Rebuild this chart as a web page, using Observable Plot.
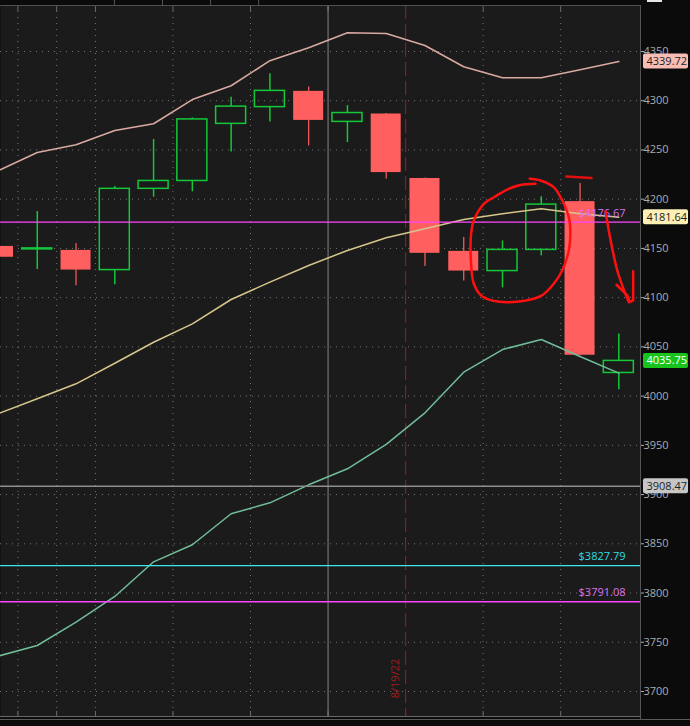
<!DOCTYPE html>
<html><head><meta charset="utf-8">
<script src="https://cdn.jsdelivr.net/npm/d3@7"></script>
<script src="https://cdn.jsdelivr.net/npm/@observablehq/plot@0.6"></script>
<style>html,body{margin:0;padding:0;background:#0b0b0b;overflow:hidden}</style>
</head><body><div id="chart"></div>
<script>
// ---- candle data (bar index, OHLC) ----
const barIndex = [0,1,2,3,4,5,6,7,8,9,10,11,12,13,14,15,16];
const opens  = [4152, 4149, 4148, 4128, 4210.5, 4218.5, 4276.5, 4293.5, 4309.5, 4278.5, 4286.5, 4221, 4147, 4127, 4148.5, 4197.5, 4023.5];
const highs  = [4158, 4187.5, 4155, 4213, 4260.5, 4282.5, 4303.5, 4327.5, 4314, 4295, 4287, 4221.5, 4161, 4157.5, 4202.5, 4216, 4063];
const lows   = [4135, 4128.5, 4112, 4113, 4202, 4207.5, 4248, 4278.5, 4254, 4257.5, 4220.5, 4131.5, 4117, 4110, 4142.5, 4041, 4006.5];
const closes = [4141, 4150, 4128, 4210.5, 4218.5, 4281, 4294, 4310, 4280, 4287.5, 4227, 4145, 4127, 4148.5, 4194.5, 4041.5, 4035.75];

// ---- bands ----
const upperBand  = [4229, 4247.4, 4255.2, 4269.8, 4276.6, 4301.2, 4315.2, 4340.6, 4353.8, 4369, 4368.3, 4356.1, 4334.5, 4323.3, 4323.3, 4331.4, 4339.72];
const middleBand = [3982.3, 3997.3, 4012.5, 4033.4, 4054.7, 4073.4, 4098.1, 4115.7, 4132.7, 4147.9, 4160.8, 4169.9, 4179.4, 4185.2, 4190.2, 4185.2, 4181.64];
const lowerBand  = [3736, 3746.7, 3770.4, 3796.5, 3831.7, 3849, 3880.5, 3891.6, 3909.9, 3926.2, 3951, 3983, 4024.3, 4047.3, 4057.5, 4040.2, 4023.3];

// ---- axis / grid ----
const yTicks = [3700, 3750, 3800, 3850, 3900, 3950, 4000, 4050, 4100, 4150, 4200, 4250, 4300, 4350];
const gridAfterBars = [0, 1, 2, 4, 6, 12, 14];
const sessionBreakAfter = [8];
const dateBreakAfter = [10];
const dateLabels = ["8/19/22"];
const toolbarSeparators = [2.99, 4.23, 5.47, 6.71];

// ---- price lines ----
const priceLineValues = [4176.67, 3827.79, 3791.08, 3908.47];
const priceLineLabels = ["$4176.67", "$3827.79", "$3791.08", ""];
const priceLineColors = ["#ff44ff", "#3ee6e6", "#ff44ff", "#8e8e8e"];
const priceLabelColors = ["#d274fa", "#2fdde4", "#dc72ee", "#8e8e8e"];

// ---- last-value badges ----
const badgeValues = [4339.72, 4181.64, 4035.75, 3908.47];
const badgeFills = ["#f7bdb4", "#fcf0b6", "#18c41c", "#c6c6c6"];
const badgeTextColors = ["#1e1e1e", "#1e1e1e", "#ffffff", "#1e1e1e"];

// ---- hand-drawn annotation (bar index, price) ----
const circleX = [13.85, 13.46, 13.12, 12.78, 12.52, 12.26, 12.19, 12.19, 12.26, 12.48, 13.12, 13.98, 14.32, 14.54, 14.71, 14.75, 14.71, 14.54, 14.32, 13.98, 13.70];
const circleY = [4215.6, 4214.4, 4209.8, 4202.0, 4195.3, 4178.4, 4164.9, 4134.4, 4114.1, 4101.2, 4095.4, 4101.5, 4114.1, 4127.6, 4147.9, 4164.9, 4181.7, 4198.7, 4212.2, 4219.0, 4220.7];
const dashX = [14.65, 15.295];
const dashY = [4223.0, 4221.5];
const shaftX = [15.66, 15.74, 15.96, 16.17, 16.26];
const shaftY = [4187.8, 4168.2, 4127.6, 4103.9, 4095.4];
const headX = [15.94, 16.22, 16.28, 16.37, 16.37];
const headY = [4113.1, 4102.2, 4095.4, 4097.1, 4126.9];

// ---- build tables ----
const candles = barIndex.map((i, k) => ({i, open: opens[k], high: highs[k], low: lows[k], close: closes[k]}));
const up = candles.filter(d => d.close >= d.open);
const down = candles.filter(d => d.close < d.open);
const bands = [
  {vals: upperBand, color: "#d9aaa2"},
  {vals: middleBand, color: "#d6c68c"},
  {vals: lowerBand, color: "#72bd99"}
];
const pts = (xs, ys) => xs.map((x, k) => ({x, y: ys[k]}));
const priceLines = priceLineValues.map((v, k) => ({v, label: priceLineLabels[k], color: priceLineColors[k], lc: priceLabelColors[k]}));
const badges = badgeValues.map((v, k) => ({v, label: v.toFixed(2), fill: badgeFills[k], tc: badgeTextColors[k]}));
const gridX = gridAfterBars.map(i => i + 0.5);
const allSep = gridX.concat(sessionBreakAfter.map(i => i + 0.5), dateBreakAfter.map(i => i + 0.5));

const xDomain = [0.0516, 16.559];
const yDomain = [3674.6, 4396.7];
const half = 0.387;

const chart = Plot.plot({
  width: 690, height: 726,
  marginLeft: 0, marginRight: 50, marginTop: 5, marginBottom: 10,
  style: {background: "#0b0b0b", color: "#a6acb4", fontFamily: "'Open Sans', sans-serif", fontSize: "11px", overflow: "hidden"},
  x: {type: "linear", domain: xDomain, axis: null},
  y: {domain: yDomain, axis: "right", ticks: yTicks, tickSize: 3, tickPadding: 0, tickFormat: d => String(d), label: null},
  marks: [
    Plot.frame({fill: "#1b1b1b", stroke: "none"}),
    // toolbar separators above the frame
    Plot.ruleX(toolbarSeparators, {insetTop: -5, insetBottom: 711, stroke: "#555"}),
    // dotted grid
    Plot.ruleY(yTicks, {stroke: "#747474", strokeDasharray: "1,5"}),
    Plot.ruleX(gridX, {stroke: "#747474", strokeDasharray: "1,5"}),
    Plot.ruleX(allSep, {insetBottom: 705, stroke: "#6a6a6a"}),
    Plot.ruleX(allSep, {insetTop: 706, stroke: "#6a6a6a"}),
    // session & date breaks
    Plot.ruleX(sessionBreakAfter.map(i => i + 0.5), {stroke: "#858585"}),
    Plot.ruleX(dateBreakAfter.map(i => i + 0.5), {stroke: "#9c1414", strokeDasharray: "14,5", strokeWidth: 1.2}),
    Plot.text(dateLabels, {x: dateBreakAfter.map(i => i + 0.5), text: d => d, frameAnchor: "bottom", dy: -38, dx: -7, rotate: -90, fill: "#a31c1c", textAnchor: "middle", fontSize: 11}),
    // red candles
    Plot.ruleX(down, {x: "i", y1: "low", y2: "high", stroke: "#ff5f5f", strokeWidth: 1.2, clip: true}),
    Plot.rect(down, {x1: d => d.i - half, x2: d => d.i + half, y1: "open", y2: "close", fill: "#ff5f5f", clip: true}),
    // green candles (hollow)
    Plot.ruleX(up, {x: "i", y1: d => Math.max(d.open, d.close), y2: "high", stroke: "#14c83a", strokeWidth: 1.5, clip: true}),
    Plot.ruleX(up, {x: "i", y1: "low", y2: d => Math.min(d.open, d.close), stroke: "#14c83a", strokeWidth: 1.5, clip: true}),
    Plot.rect(up, {x1: d => d.i - half, x2: d => d.i + half, y1: "open", y2: "close", fill: "none", stroke: "#14c83a", strokeWidth: 1.5, clip: true}),
    // bands
    ...bands.map(b => Plot.line(barIndex, {x: i => i, y: i => b.vals[i], stroke: b.color, strokeWidth: 1.5, clip: true})),
    // price lines
    Plot.ruleY(priceLines, {y: "v", stroke: "color", strokeWidth: 1.4}),
    Plot.text(priceLines, {y: "v", text: "label", fill: "lc", frameAnchor: "right", textAnchor: "end", dx: -15, dy: -9, fontSize: 11}),
    // borders
    Plot.ruleY([yDomain[1]], {stroke: "#505050"}),
    Plot.ruleY([yDomain[0]], {stroke: "#6a6a6a"}),
    Plot.ruleY([yDomain[0]], {stroke: "#5a5a5a", dy: 3, insetRight: -50}),
    Plot.ruleX([xDomain[1]], {stroke: "#555", insetBottom: -4}),
    // badges
    Plot.rect(badges, {y1: "v", y2: "v", insetLeft: 643, insetRight: -48, insetTop: -7.5, insetBottom: -7.5, fill: "fill", rx: 2}),
    Plot.text(badges, {y: "v", text: "label", fill: "tc", frameAnchor: "right", textAnchor: "start", dx: 6, fontSize: 11}),
    Plot.rect([0], {insetLeft: 647, insetRight: -22, insetTop: -5, insetBottom: 714, fill: "#e6e6e6"}),
    // hand-drawn annotation
    Plot.line(pts(circleX, circleY), {x: "x", y: "y", stroke: "#ff1010", strokeWidth: 2.5, curve: "catmull-rom"}),
    Plot.line(pts(dashX, dashY), {x: "x", y: "y", stroke: "#e01010", strokeWidth: 2.5}),
    Plot.line(pts(shaftX, shaftY), {x: "x", y: "y", stroke: "#ff1010", strokeWidth: 2.5, curve: "catmull-rom"}),
    Plot.line(pts(headX, headY), {x: "x", y: "y", stroke: "#ff1010", strokeWidth: 2.5})
  ]
});
document.getElementById("chart").appendChild(chart);
</script>
</body></html>
